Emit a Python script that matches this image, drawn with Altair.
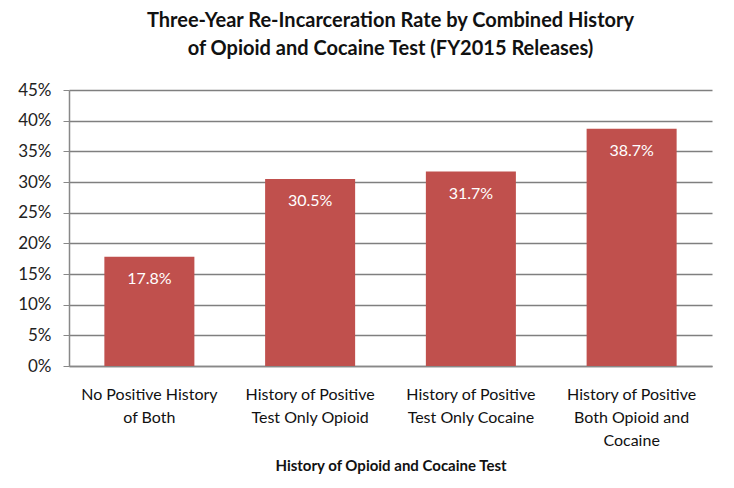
import altair as alt
import pandas as pd

categories = [
    "No Positive History|of Both",
    "History of Positive|Test Only Opioid",
    "History of Positive|Test Only Cocaine",
    "History of Positive|Both Opioid and|Cocaine",
]
rates = [0.178, 0.305, 0.317, 0.387]
labels = ["17.8%", "30.5%", "31.7%", "38.7%"]
y_ticks = [0, 0.05, 0.10, 0.15, 0.20, 0.25, 0.30, 0.35, 0.40, 0.45]

df = pd.DataFrame({"cat": categories, "rate": rates, "label": labels})

FONT = "Lato"

x = alt.X(
    "cat:N",
    sort=categories,
    scale=alt.Scale(paddingInner=0.44, paddingOuter=0.22),
    axis=alt.Axis(
        title="History of Opioid and Cocaine Test",
        labelExpr="split(datum.value, '|')",
        labelAngle=0,
        labelFontSize=16,
        labelLineHeight=23,
        labelColor="#111111",
        labelPadding=20,
        labelFont=FONT,
        ticks=False,
        grid=False,
        domainColor="#888888",
        domainWidth=1.5,
        titleFont=FONT,
        titleFontSize=15,
        titleFontWeight="bold",
        titleColor="#111111",
        titlePadding=10,
    ),
)

y = alt.Y(
    "rate:Q",
    scale=alt.Scale(domain=[0, 0.45], nice=False),
    axis=alt.Axis(
        title=None,
        values=y_ticks,
        format=".0%",
        labelFontSize=17,
        labelFont=FONT,
        labelColor="#222222",
        labelPadding=12,
        labelOverlap=False,
        labelBound=False,
        labelFlush=False,
        tickSize=6,
        tickColor="#888888",
        domainColor="#888888",
        domainWidth=1.5,
        grid=True,
        gridColor="#7f7f7f",
        gridWidth=1.5,
    ),
)

base = alt.Chart(df).encode(x=x, y=y)

bars = base.mark_bar(color="#C0504D")

text = base.mark_text(
    baseline="top", dy=14, color="white", fontSize=16, font=FONT
).encode(text="label:N")

chart = (
    alt.layer(bars, text)
    .properties(
        width=643,
        height=276,
        background="white",
        autosize=alt.AutoSizeParams(type="none"),
        padding={"left": 61, "top": 82, "right": 14, "bottom": 110},
        title=alt.TitleParams(
            text=[
                "Three-Year Re-Incarceration Rate by Combined History",
                "of Opioid and Cocaine Test (FY2015 Releases)",
            ],
            font=FONT,
            fontSize=20,
            fontWeight="bold",
            color="#111111",
            lineHeight=28,
            anchor="middle",
            offset=22,
        ),
    )
    .configure_view(stroke="transparent", strokeWidth=0)
)

chart.save("out.html", embed_options={"renderer": "svg", "actions": False})
